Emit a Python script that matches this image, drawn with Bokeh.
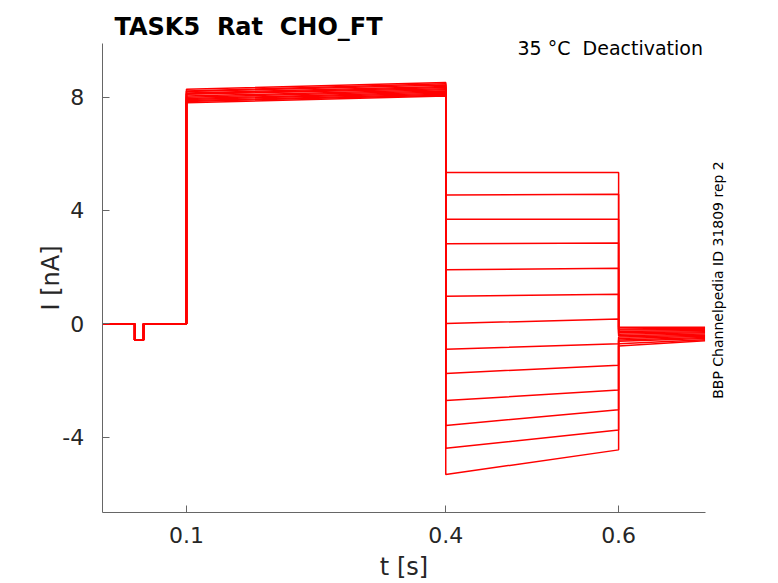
import numpy as np
from bokeh.plotting import figure
from bokeh.models import Label, FixedTicker, Range1d
from bokeh.embed import file_html
from bokeh.resources import INLINE

# ---- data ----
t_start = 0.0025
t_dip_on = 0.040
t_dip_off = 0.0503
t_step_on = 0.1
t_step_off = 0.4
t_tail_off = 0.6
t_end = 0.700

baseline = 0.0
dip_level = -0.57

step_start = [8.28, 8.22, 8.20, 8.15, 8.12, 8.10, 8.04, 8.00, 7.95, 7.92, 7.88, 7.85, 7.80]
step_end = [8.52, 8.47, 8.43, 8.38, 8.34, 8.30, 8.26, 8.22, 8.18, 8.14, 8.10, 8.07, 8.04]
tail_start = [5.34, 4.55, 3.69, 2.83, 1.91, 0.97, 0.01, -0.90, -1.75, -2.71, -3.59, -4.39, -5.32]
tail_end = [5.34, 4.57, 3.69, 2.85, 1.96, 1.04, 0.17, -0.70, -1.46, -2.34, -3.03, -3.75, -4.45]
final_start = [-0.12, -0.18, -0.22, -0.27, -0.32, -0.37, -0.42, -0.47, -0.52, -0.57, -0.62, -0.70, -0.78]
final_end = [-0.12, -0.16, -0.20, -0.24, -0.28, -0.32, -0.36, -0.40, -0.44, -0.48, -0.52, -0.56, -0.60]

x_ticks = [0.1, 0.4, 0.6]
x_tick_labels = ["0.1", "0.4", "0.6"]
y_ticks = [-4, 0, 4, 8]
y_tick_labels = ["-4", "0", "4", "8"]
y_min, y_max = -6.66, 9.89

title_text = "TASK5 \u00a0Rat \u00a0CHO_FT"
subtitle_text = "35 \u00b0C \u00a0Deactivation"
side_text = "BBP Channelpedia ID 31809 rep 2"
x_label = "t [s]"
y_label = "I [nA]"

# ---- build sweeps ----
xs, ys = [], []
for i in range(len(step_start)):
    xs.append([t_start, t_dip_on, t_dip_on, t_dip_off, t_dip_off, t_step_on,
               t_step_on, t_step_off, t_step_off, t_tail_off, t_tail_off, t_end])
    ys.append([baseline, baseline, dip_level, dip_level, baseline, baseline,
               step_start[i], step_end[i], tail_start[i], tail_end[i],
               final_start[i], final_end[i]])

FONT = "DejaVu Sans"
W, H = 776, 583
# layout: axis origin (pixels) and scale
AX_LEFT, AX_BOTTOM = 101.7, 512.0
X_PX = 864.3          # px per second
Y_PX = 28.33          # px per nA
Y0_PX = 323.3         # pixel row of 0 nA

x_lo = t_start - AX_LEFT / X_PX
x_hi = t_start + (W - AX_LEFT) / X_PX
y_hi = Y0_PX / Y_PX
y_lo = -(H - Y0_PX) / Y_PX

p = figure(width=W, height=H, x_range=Range1d(x_lo, x_hi), y_range=Range1d(y_lo, y_hi),
           output_backend="svg", toolbar_location=None,
           min_border_left=0, min_border_right=0, min_border_top=0, min_border_bottom=0)
p.outline_line_color = None
p.xgrid.visible = False
p.ygrid.visible = False
p.background_fill_color = "white"
p.border_fill_color = "white"

p.multi_line(xs, ys, line_color="#ff0000", line_width=1.5)

axis_col = "#666666"
lab_col = "#262626"
for ax in (p.xaxis[0], p.yaxis[0]):
    ax.axis_line_color = axis_col
    ax.major_tick_line_color = axis_col
    ax.minor_tick_line_color = None
    ax.major_tick_in = 7
    ax.major_tick_out = 0
    ax.major_label_text_font = FONT
    ax.major_label_text_font_size = "22px"
    ax.major_label_text_color = lab_col
    ax.axis_label_text_font = FONT
    ax.axis_label_text_font_size = "24px"
    ax.axis_label_text_font_style = "normal"
    ax.axis_label_text_color = lab_col

p.xaxis.ticker = FixedTicker(ticks=x_ticks)
p.xaxis.major_label_overrides = dict(zip(x_ticks, x_tick_labels))
p.xaxis.major_label_standoff = 14
p.xaxis.axis_label = x_label
p.xaxis.axis_label_standoff = 7
p.xaxis.fixed_location = y_lo + (H - AX_BOTTOM) / Y_PX
p.xaxis.bounds = (t_start, t_end)

p.yaxis.ticker = FixedTicker(ticks=y_ticks)
p.yaxis.major_label_overrides = dict(zip(y_ticks, y_tick_labels))
p.yaxis.major_label_standoff = 18
p.yaxis.axis_label = y_label
p.yaxis.axis_label_standoff = -5
p.yaxis.fixed_location = t_start
p.yaxis.bounds = (y_lo + (H - AX_BOTTOM) / Y_PX, y_max)

p.add_layout(Label(x=114, y=H - 26, x_units="screen", y_units="screen", text=title_text,
                   text_font=FONT, text_font_size="24px", text_font_style="bold",
                   text_color="black", text_align="left", text_baseline="alphabetic"))
p.add_layout(Label(x=702.5, y=H - 47, x_units="screen", y_units="screen", text=subtitle_text,
                   text_font=FONT, text_font_size="19px", text_color="black",
                   text_align="right", text_baseline="alphabetic"))
p.add_layout(Label(x=717, y=H - 279.5, x_units="screen", y_units="screen", text=side_text,
                   text_font=FONT, text_font_size="14px", text_color="black",
                   angle=90, angle_units="deg", text_align="center", text_baseline="middle"))

open("out.html", "w").write(file_html(p, INLINE))
